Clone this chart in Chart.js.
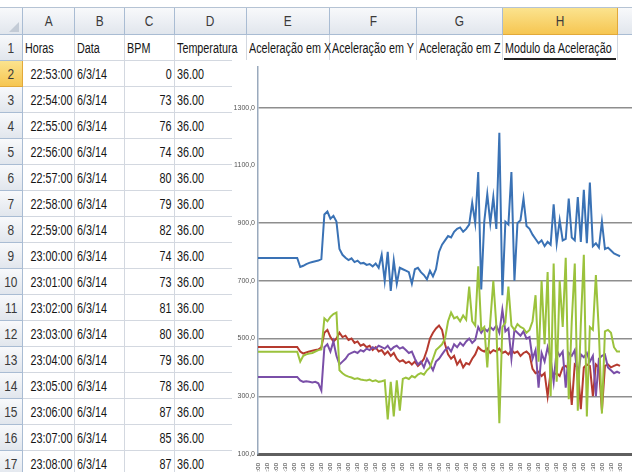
<!DOCTYPE html>
<html>
<head>
<meta charset="utf-8">
<script src="https://cdn.jsdelivr.net/npm/chart.js@4/dist/chart.umd.min.js"></script>
<style>
  body { margin: 0; width: 632px; height: 472px; overflow: hidden; background: #fff;
         font-family: "Liberation Sans", Arial, sans-serif; }
  .cell { position: absolute; box-sizing: border-box; border-right: 1px solid #d3d8e0;
          border-bottom: 1px solid #d3d8e0; font-size: 14px; line-height: 26px; padding: 0 2px;
          white-space: nowrap; color: #151515; }
  .cell .t { display: inline-block; transform: scaleX(0.77); transform-origin: left center; }
  .cell.right .t { position: absolute; top: 0; right: 2px; transform-origin: right center; }
  .hdr { background: linear-gradient(#f8f9fb, #e1e6ed); border-right: 1px solid #a9bcd3;
         border-bottom: 1px solid #a9bcd3; text-align: center; color: #3a3a3a; }
  .hdr .t { transform-origin: center center; transform: scaleX(0.85); }
  .sel { background: linear-gradient(#fbe38e, #f6c652); border-right: 1px solid #e2a93a;
         border-bottom: 1px solid #e2a93a; }
  #chartBox { position: absolute; left: 232px; top: 60px; width: 401px; height: 412px; background: #fff; }
</style>
</head>
<body>
<div id="sheet"></div>
<div id="chartBox"><canvas id="myChart" width="401" height="412"></canvas></div>
<script>
// SHEET DATA
const cabecalhos = ["Horas", "Data", "BPM", "Temperatura", "Aceleração em X", "Aceleração em Y", "Aceleração em Z", "Modulo da Aceleração"];
const horas = ["22:53:00", "22:54:00", "22:55:00", "22:56:00", "22:57:00", "22:58:00", "22:59:00", "23:00:00",
  "23:01:00", "23:02:00", "23:03:00", "23:04:00", "23:05:00", "23:06:00", "23:07:00", "23:08:00"];
const datas = ["6/3/14", "6/3/14", "6/3/14", "6/3/14", "6/3/14", "6/3/14", "6/3/14", "6/3/14",
  "6/3/14", "6/3/14", "6/3/14", "6/3/14", "6/3/14", "6/3/14", "6/3/14", "6/3/14"];
const bpm = [0, 73, 76, 74, 80, 79, 82, 74, 73, 81, 80, 79, 78, 87, 85, 87];
const temperatura = ["36.00", "36.00", "36.00", "36.00", "36.00", "36.00", "36.00", "36.00",
  "36.00", "36.00", "36.00", "36.00", "36.00", "36.00", "36.00", "36.00"];

// CHART DATA
const yTicks = [100, 300, 500, 700, 900, 1100, 1300];
const tempoTicks = ["22:53:00", "22:53:30", "22:54:00", "22:54:30", "22:55:00", "22:55:30", "22:56:00", "22:56:30",
  "22:57:00", "22:57:30", "22:58:00", "22:58:30", "22:59:00", "22:59:30", "23:00:00", "23:00:30", "23:01:00",
  "23:01:30", "23:02:00", "23:02:30", "23:03:00", "23:03:30", "23:04:00", "23:04:30", "23:05:00", "23:05:30",
  "23:06:00", "23:06:30", "23:07:00", "23:07:30", "23:08:00", "23:08:30", "23:09:00", "23:09:30", "23:10:00",
  "23:10:30", "23:11:00", "23:11:30", "23:12:00", "23:12:30", "23:13:00"];

const moduloAcel = [779, 779, 779, 779, 779, 779, 779, 779, 779, 779, 779, 779, 779, 779,
  748, 752, 758, 762, 765, 768, 770, 775,
  930, 940, 915, 925, 905,
  810, 790, 780, 772, 778, 765, 770, 760, 762, 755, 758, 750, 760, 745,
  790, 700, 800, 665, 770, 690, 745, 740, 735, 730, 690, 740, 745, 730, 720, 705, 735, 715, 740,
  800, 825, 840, 855, 850, 870, 880, 885, 870, 880, 895,
  970, 900, 1077, 670, 905, 1000, 900, 990, 880, 1213,
  650, 905, 895, 1077, 700, 900, 910, 985, 890, 880,
  860, 845, 830, 840, 820, 835, 825, 965, 830, 910,
  840, 845, 985, 850, 840, 990, 835, 1015, 830, 1040,
  820, 830, 815, 905, 810, 815, 805, 795, 790, 785];

const acelX = [471, 471, 471, 471, 471, 471, 471, 471, 471, 471, 471, 471, 471, 471,
  455, 448, 452, 455, 458, 460, 462, 470,
  520, 530, 505, 490, 500,
  520, 505, 510, 495, 500, 485, 490, 475, 480, 470, 475, 460, 470, 455,
  460, 445, 455, 440, 450, 430, 420, 425, 415, 420, 410, 420, 405, 415, 430, 460, 500, 520, 535,
  545, 530, 480, 445, 430, 440, 410, 425, 400, 415, 410,
  430, 445, 470, 460, 455, 465, 450, 460, 455, 465,
  450, 455, 445, 460, 450, 455, 440, 450, 455, 445,
  395, 380, 385, 370, 380, 300, 385, 375, 380, 370,
  400, 405, 395, 270, 410, 400, 255, 400, 410, 405,
  300, 410, 400, 250, 405, 410, 400, 405, 410, 405];

const acelY = [454, 454, 454, 454, 454, 454, 454, 454, 454, 454, 454, 454, 454, 454,
  420, 440, 445, 448, 450, 455, 460, 462,
  570, 560, 575, 585, 590,
  390, 380, 372, 368, 365, 360, 362, 358, 356, 355, 358, 352, 355, 350,
  352, 355, 220, 350, 230, 355, 250, 360, 365, 360, 370, 365, 375, 380, 375, 390, 400, 430, 460,
  470, 480, 500, 560, 590, 570, 575, 560, 580, 565, 680,
  560, 545, 750, 530, 540, 400, 560, 700, 545, 207,
  540, 555, 680, 545, 530, 550, 540, 535, 520, 530,
  560, 650, 420, 700, 480, 730, 300, 760, 350, 700,
  540, 780, 290, 560, 760, 250, 550, 790, 230, 540,
  530, 720, 520, 240, 525, 530, 520, 470, 455, 455];

const acelZ = [367, 367, 367, 367, 367, 367, 367, 367, 367, 367, 367, 367, 367, 367,
  355, 350, 352, 350, 348, 350, 345, 320,
  470, 480, 455, 490, 440,
  410, 420, 430, 445, 450, 455, 450, 460, 455, 465, 460, 470, 465, 475,
  470, 465, 475, 460, 470, 475, 465, 470, 460, 450, 455, 430, 410, 420, 400, 430, 410, 390, 420,
  430, 445, 460, 470, 455, 480, 470, 485, 475, 490, 500,
  485, 495, 540, 520, 535, 525, 540, 530, 545, 520,
  600, 525, 535, 430, 530, 520, 510, 525, 500, 505,
  430, 460, 330, 450, 420, 470, 430, 350, 460, 440,
  455, 330, 450, 440, 460, 360, 445, 435, 450, 420,
  440, 300, 430, 440, 445, 400, 390, 380, 385, 380];

// BUILD THE SPREADSHEET
const sheet = document.getElementById("sheet");
const colX = [0, 23, 75, 125, 175, 247, 330, 417, 503, 618, 700];
const letras = ["", "A", "B", "C", "D", "E", "F", "G", "H", "I"];
const headTop = 8, headH = 27, rowH = 26;

function addCell(x, y, w, h, text, cls) {
  const d = document.createElement("div");
  d.className = "cell " + (cls || "");
  d.style.left = x + "px";
  d.style.top = y + "px";
  d.style.width = w + "px";
  d.style.height = h + "px";
  if (text !== "") {
    const s = document.createElement("span");
    s.className = "t";
    s.textContent = text;
    d.appendChild(s);
  }
  sheet.appendChild(d);
  return d;
}

// top border strip
const strip = document.createElement("div");
strip.style.cssText = "position:absolute;left:0;top:7px;width:632px;height:1px;background:#b5c3d4";
sheet.appendChild(strip);

for (let c = 0; c < letras.length; c++) {
  const d = addCell(colX[c], headTop, colX[c + 1] - colX[c], headH, letras[c], c === 8 ? "hdr sel" : "hdr");
  d.style.lineHeight = headH + "px";
}
// corner triangle
const tri = document.createElement("div");
tri.style.cssText = "position:absolute;left:9px;top:22px;width:0;height:0;border-left:10px solid transparent;border-bottom:10px solid #c3cbd6";
sheet.appendChild(tri);

for (let r = 1; r <= 17; r++) {
  const y = headTop + headH + (r - 1) * rowH;
  addCell(0, y, 23, rowH, String(r), r === 2 ? "hdr sel" : "hdr");
  let vals;
  if (r === 1) {
    vals = cabecalhos;
  } else {
    const k = r - 2;
    vals = [horas[k], datas[k], String(bpm[k]), temperatura[k], "", "", "", ""];
  }
  for (let c = 1; c < 10; c++) {
    const txt = c <= 8 ? vals[c - 1] : "";
    const cls = r > 1 && (c === 1 || c === 3) ? "right" : "";
    addCell(colX[c], y, colX[c + 1] - colX[c], rowH, txt, cls);
  }
}
// active cell edge under H1
const act = document.createElement("div");
act.style.cssText = "position:absolute;left:504px;top:58px;width:112px;height:2px;background:#222";
sheet.appendChild(act);

// INCLUDE DATA INTO LINE CHART
const toPoints = (arr) => arr.map((v, i) => ({ x: i, y: v }));

const ctx = document.getElementById("myChart").getContext("2d");
const lineChart = new Chart(ctx, {
  type: "line",
  data: {
    datasets: [
      { label: "Modulo da Aceleração", data: toPoints(moduloAcel), borderColor: "#3a72b5", borderWidth: 2 },
      { label: "Aceleração em Y", data: toPoints(acelY), borderColor: "#9bc23c", borderWidth: 2 },
      { label: "Aceleração em Z", data: toPoints(acelZ), borderColor: "#7a4fa8", borderWidth: 2 },
      { label: "Aceleração em X", data: toPoints(acelX), borderColor: "#b53a2f", borderWidth: 2 },
    ],
  },
  options: {
    responsive: false,
    animation: false,
    devicePixelRatio: 1,
    layout: { padding: { top: 3, right: 0, left: 0, bottom: 0 } },
    elements: { point: { radius: 0 }, line: { tension: 0 } },
    plugins: { legend: { display: false }, tooltip: { enabled: false } },
    scales: {
      x: {
        type: "linear",
        min: 0,
        max: 124.3,
        afterBuildTicks: (axis) => {
          axis.ticks = tempoTicks.map((t, k) => ({ value: k * 3 }));
        },
        afterFit: (axis) => { axis.height = 18; },
        ticks: {
          autoSkip: false,
          minRotation: 90,
          maxRotation: 90,
          padding: 1,
          font: { size: 6, family: "Liberation Sans" },
          color: "#333",
          callback: (v) => tempoTicks[Math.round(v / 3)],
        },
        grid: { display: false },
        border: { color: "#5f5f5f", width: 3 },
      },
      y: {
        min: 100,
        max: 1440,
        afterBuildTicks: (axis) => {
          axis.ticks = yTicks.map((v) => ({ value: v }));
        },
        afterFit: (axis) => { axis.width = 26; },
        ticks: {
          padding: 3,
          font: { size: 7, family: "Liberation Sans" },
          color: "#555",
          callback: (v) => v + ",0",
        },
        grid: {
          drawTicks: false,
          lineWidth: 1.5,
          color: (c) => (c.tick && c.tick.value === 1100 ? "rgba(0,0,0,0)" : "#8e8e8e"),
        },
        border: { color: "#9aaabd", width: 1.5 },
      },
    },
  },
});
</script>
</body>
</html>
